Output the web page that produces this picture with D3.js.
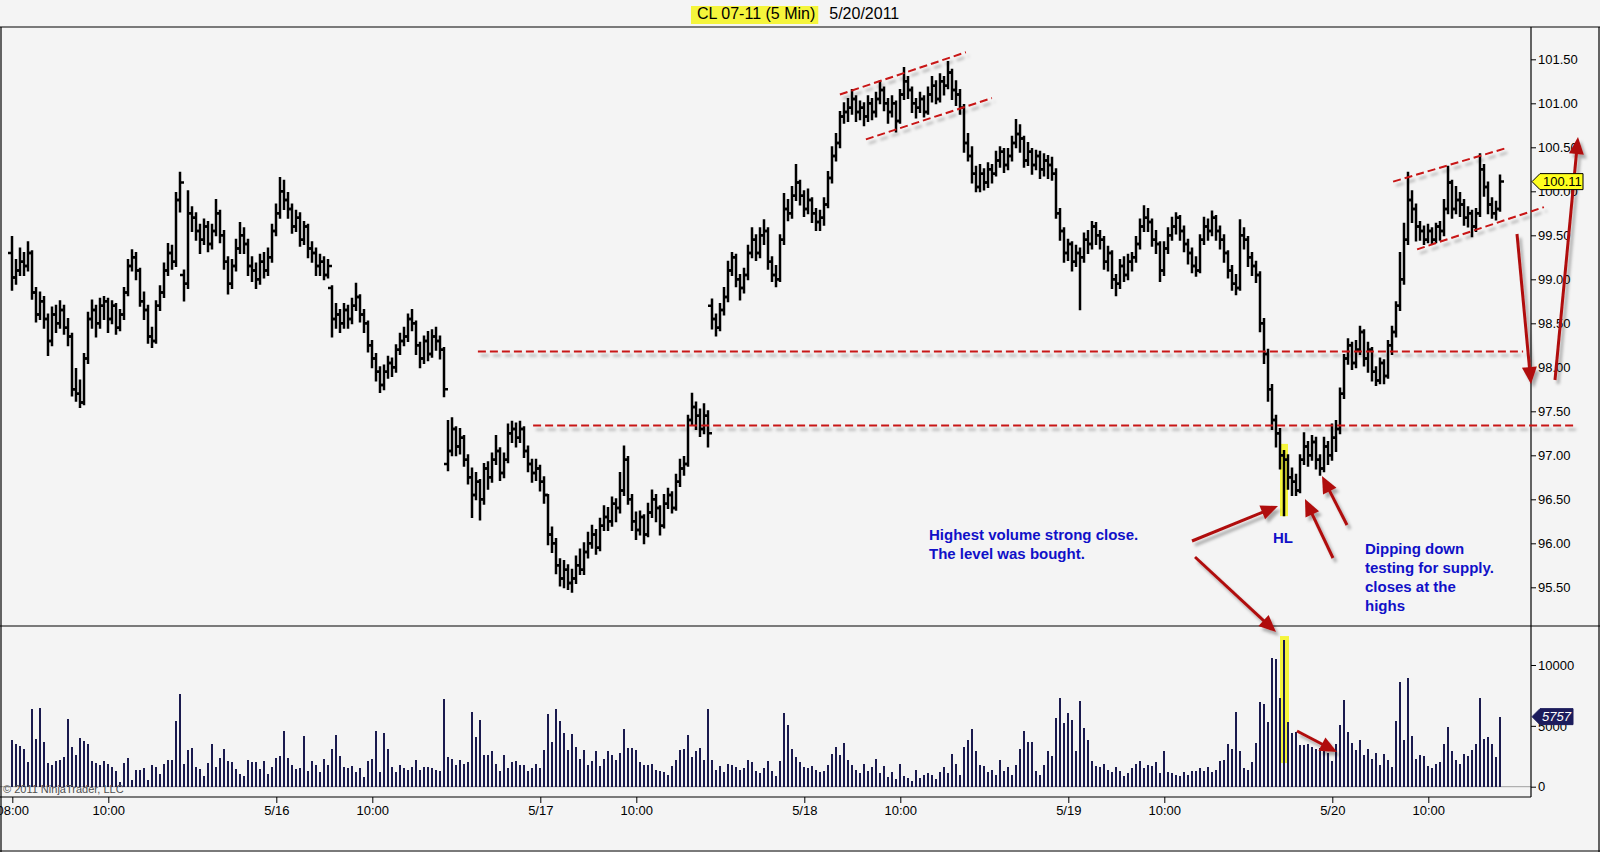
<!DOCTYPE html>
<html>
<head>
<meta charset="utf-8">
<title>CL 07-11 (5 Min) 5/20/2011</title>
<script src="https://cdn.jsdelivr.net/npm/d3@7"></script>
<style>
  html, body { margin: 0; padding: 0; background: #f4f4f4; }
  svg { display: block; font-family: Arial, "Liberation Sans", sans-serif; }
</style>
</head>
<body>
<svg id="chart" width="1600" height="852"></svg>
<script>
// 5-minute bars, 5/13 08:00 .. 5/20 ~10:50 (66 bars per session)
const opens = [
  99.30, 99.02, 99.10, 99.20, 99.15, 99.30, 98.85, 98.60, 98.75, 98.55,
  98.30, 98.60, 98.50, 98.65, 98.45, 98.35, 97.75, 97.70, 97.60, 98.10,
  98.55, 98.65, 98.50, 98.70, 98.75, 98.55, 98.70, 98.45, 98.60, 98.85,
  99.15, 99.25, 99.10, 98.75, 98.65, 98.35, 98.30, 98.70, 98.85, 99.10,
  99.30, 99.20, 99.90, 99.05, 98.95, 99.75, 99.70, 99.55, 99.45, 99.60,
  99.40, 99.55, 99.75, 99.50, 99.20, 98.95, 99.15, 99.35, 99.50, 99.40,
  99.15, 99.10, 99.00, 99.20, 99.10, 99.25, 99.55, 99.75, 100.00, 99.90,
  99.80, 99.60, 99.70, 99.45, 99.60, 99.35, 99.30, 99.15, 99.20, 99.05,
  98.90, 98.55, 98.60, 98.50, 98.65, 98.55, 98.70, 98.80, 98.60, 98.50,
  98.25, 98.10, 97.95, 97.80, 97.95, 98.05, 98.00, 98.20, 98.30, 98.35,
  98.55, 98.50, 98.25, 98.10, 98.30, 98.15, 98.35, 98.30, 98.20, 96.90,
  97.05, 97.30, 97.10, 97.20, 96.95, 96.75, 96.55, 96.70, 96.50, 96.85,
  96.75, 96.95, 97.05, 96.80, 96.95, 97.25, 97.30, 97.20, 97.30, 97.05,
  96.90, 96.80, 96.85, 96.70, 96.55, 96.10, 96.00, 95.75, 95.60, 95.70,
  95.55, 95.60, 95.75, 95.70, 95.90, 96.00, 96.10, 95.95, 96.20, 96.30,
  96.25, 96.45, 96.40, 96.60, 96.95, 96.50, 96.25, 96.15, 96.30, 96.10,
  96.35, 96.50, 96.40, 96.20, 96.45, 96.55, 96.40, 96.70, 96.85, 96.90,
  97.40, 97.55, 97.45, 97.30, 97.45, 98.70, 98.55, 98.45, 98.65, 98.80,
  99.10, 99.25, 99.00, 98.90, 99.05, 99.30, 99.45, 99.30, 99.50, 99.55,
  99.20, 99.05, 99.00, 99.45, 99.80, 99.75, 99.95, 100.10, 99.95, 99.80,
  99.90, 99.75, 99.65, 99.70, 99.85, 100.15, 100.40, 100.55, 100.85, 100.90,
  100.95, 101.05, 100.90, 100.95, 100.85, 101.00, 100.90, 101.05, 101.15, 101.00,
  100.90, 101.00, 100.80, 101.10, 101.25, 101.15, 101.00, 100.95, 101.05, 100.90,
  101.10, 101.20, 101.05, 101.25, 101.20, 101.35, 101.15, 101.10, 100.95, 100.55,
  100.40, 100.20, 100.05, 100.20, 100.10, 100.25, 100.20, 100.35, 100.45, 100.30,
  100.40, 100.55, 100.65, 100.60, 100.35, 100.45, 100.30, 100.40, 100.25, 100.35,
  100.30, 100.20, 99.75, 99.55, 99.30, 99.40, 99.20, 99.30, 99.25, 99.45,
  99.40, 99.60, 99.50, 99.45, 99.20, 99.30, 99.00, 98.95, 99.15, 99.05,
  99.20, 99.25, 99.40, 99.60, 99.70, 99.65, 99.45, 99.40, 99.10, 99.35,
  99.50, 99.60, 99.70, 99.55, 99.40, 99.30, 99.15, 99.10, 99.45, 99.60,
  99.55, 99.70, 99.55, 99.45, 99.30, 99.10, 98.95, 98.90, 99.50, 99.45,
  99.25, 99.15, 99.05, 98.50, 98.15, 97.75, 97.40, 97.25, 97.00, 96.95,
  96.75, 96.70, 96.60, 96.95, 97.10, 97.00, 97.15, 96.95, 96.85, 97.10,
  97.00, 97.20, 97.30, 97.70, 98.10, 98.25, 98.05, 98.20, 98.40, 98.10,
  98.20, 97.95, 97.85, 98.05, 97.90, 98.25, 98.40, 98.70, 99.00, 99.45,
  99.90, 99.80, 99.60, 99.55, 99.45, 99.55, 99.45, 99.60, 99.55, 99.80,
  100.10, 99.80, 99.90, 99.85, 99.70, 99.75, 99.60, 99.75, 100.25, 100.05,
  99.85, 99.75, 99.80
];
const highs = [
  99.48, 99.22, 99.35, 99.30, 99.42, 99.32, 98.90, 98.85, 98.80, 98.60,
  98.68, 98.70, 98.75, 98.70, 98.55, 98.38, 97.98, 97.85, 98.15, 98.62,
  98.76, 98.70, 98.78, 98.80, 98.78, 98.75, 98.72, 98.65, 98.90, 99.22,
  99.33, 99.30, 99.12, 98.85, 98.70, 98.45, 98.75, 98.92, 99.18, 99.40,
  99.38, 99.98, 100.21, 99.10, 100.00, 99.82, 99.75, 99.62, 99.68, 99.65,
  99.62, 99.90, 99.78, 99.55, 99.25, 99.22, 99.45, 99.64, 99.58, 99.45,
  99.25, 99.18, 99.28, 99.30, 99.35, 99.62, 99.85, 100.15, 100.12, 99.98,
  99.85, 99.78, 99.75, 99.65, 99.62, 99.42, 99.35, 99.28, 99.25, 99.22,
  98.92, 98.72, 98.65, 98.72, 98.70, 98.78, 98.95, 98.82, 98.65, 98.52,
  98.30, 98.15, 98.00, 98.02, 98.12, 98.10, 98.25, 98.38, 98.45, 98.60,
  98.65, 98.52, 98.28, 98.35, 98.40, 98.42, 98.45, 98.35, 98.22, 97.39,
  97.42, 97.32, 97.30, 97.22, 97.00, 96.85, 96.80, 96.72, 96.90, 96.92,
  97.02, 97.22, 97.08, 97.02, 97.35, 97.38, 97.36, 97.38, 97.32, 97.10,
  96.95, 96.95, 96.88, 96.75, 96.55, 96.18, 96.05, 95.82, 95.80, 95.75,
  95.70, 95.85, 95.93, 96.00, 96.12, 96.20, 96.15, 96.28, 96.42, 96.40,
  96.52, 96.50, 96.80, 97.10, 96.98, 96.55, 96.35, 96.36, 96.32, 96.45,
  96.60, 96.55, 96.42, 96.55, 96.62, 96.58, 96.78, 96.95, 96.98, 97.45,
  97.70, 97.60, 97.52, 97.58, 97.50, 98.77, 98.60, 98.72, 98.90, 99.20,
  99.30, 99.28, 99.05, 99.12, 99.38, 99.58, 99.50, 99.58, 99.67, 99.58,
  99.25, 99.15, 99.50, 99.97, 99.90, 100.05, 100.30, 100.12, 100.00, 100.02,
  99.92, 99.80, 99.78, 99.92, 100.22, 100.50, 100.65, 100.90, 101.00, 101.05,
  101.15, 101.08, 101.02, 101.00, 101.08, 101.05, 101.12, 101.25, 101.18, 101.05,
  101.08, 101.02, 101.15, 101.40, 101.30, 101.18, 101.05, 101.12, 101.08, 101.18,
  101.30, 101.25, 101.33, 101.30, 101.47, 101.38, 101.25, 101.15, 100.98, 100.65,
  100.50, 100.28, 100.30, 100.25, 100.32, 100.30, 100.45, 100.50, 100.48, 100.48,
  100.62, 100.81, 100.75, 100.62, 100.55, 100.48, 100.46, 100.45, 100.42, 100.40,
  100.38, 100.25, 99.80, 99.58, 99.45, 99.42, 99.38, 99.35, 99.52, 99.55,
  99.65, 99.64, 99.55, 99.48, 99.37, 99.32, 99.05, 99.22, 99.25, 99.28,
  99.30, 99.48, 99.68, 99.83, 99.80, 99.68, 99.55, 99.42, 99.42, 99.58,
  99.70, 99.75, 99.72, 99.60, 99.45, 99.35, 99.25, 99.50, 99.70, 99.68,
  99.77, 99.72, 99.60, 99.50, 99.32, 99.15, 99.05, 99.67, 99.58, 99.48,
  99.30, 99.20, 99.08, 98.55, 98.20, 97.80, 97.45, 97.30, 97.05, 97.00,
  96.85, 96.78, 97.00, 97.25, 97.15, 97.22, 97.20, 97.00, 97.20, 97.15,
  97.35, 97.39, 97.76, 98.14, 98.32, 98.28, 98.30, 98.46, 98.42, 98.28,
  98.22, 98.00, 98.10, 98.08, 98.30, 98.46, 98.74, 99.30, 99.63, 100.21,
  100.00, 99.85, 99.65, 99.60, 99.62, 99.58, 99.63, 99.65, 99.90, 100.28,
  100.12, 100.05, 99.98, 99.90, 99.82, 99.78, 99.80, 100.42, 100.30, 100.10,
  99.92, 99.88, 100.18
];
const lows = [
  98.88, 98.95, 99.05, 99.05, 99.10, 98.78, 98.52, 98.55, 98.45, 98.14,
  98.25, 98.40, 98.45, 98.38, 98.25, 97.68, 97.62, 97.55, 97.58, 98.05,
  98.45, 98.35, 98.45, 98.55, 98.40, 98.50, 98.38, 98.42, 98.55, 98.82,
  99.10, 99.00, 98.70, 98.55, 98.28, 98.23, 98.28, 98.65, 98.80, 99.05,
  99.12, 99.15, 99.77, 98.76, 98.90, 99.55, 99.45, 99.30, 99.40, 99.32,
  99.35, 99.50, 99.42, 99.12, 98.84, 98.90, 99.10, 99.30, 99.30, 99.05,
  98.98, 98.90, 98.95, 99.02, 99.05, 99.20, 99.50, 99.70, 99.80, 99.70,
  99.53, 99.55, 99.38, 99.40, 99.25, 99.20, 99.05, 99.05, 99.00, 99.02,
  98.35, 98.45, 98.40, 98.45, 98.45, 98.50, 98.65, 98.52, 98.40, 98.18,
  98.00, 97.85, 97.72, 97.75, 97.88, 97.90, 97.95, 98.15, 98.25, 98.30,
  98.42, 98.15, 98.00, 98.05, 98.08, 98.12, 98.20, 98.10, 97.67, 96.83,
  97.00, 97.00, 97.02, 96.88, 96.68, 96.30, 96.50, 96.27, 96.45, 96.62,
  96.70, 96.90, 96.72, 96.75, 96.92, 97.15, 97.10, 97.15, 96.98, 96.82,
  96.70, 96.72, 96.60, 96.46, 95.99, 95.90, 95.66, 95.52, 95.50, 95.48,
  95.45, 95.55, 95.65, 95.65, 95.84, 95.95, 95.88, 95.92, 96.15, 96.15,
  96.20, 96.25, 96.35, 96.55, 96.45, 96.15, 96.05, 96.10, 96.00, 96.08,
  96.30, 96.25, 96.10, 96.18, 96.40, 96.35, 96.38, 96.65, 96.78, 96.88,
  97.35, 97.30, 97.22, 97.25, 97.10, 98.44, 98.36, 98.42, 98.60, 98.75,
  99.05, 98.92, 98.77, 98.85, 99.00, 99.25, 99.22, 99.25, 99.40, 99.12,
  98.98, 98.92, 98.98, 99.40, 99.67, 99.70, 99.90, 99.85, 99.72, 99.75,
  99.65, 99.56, 99.56, 99.62, 99.82, 100.10, 100.35, 100.50, 100.78, 100.80,
  100.88, 100.80, 100.82, 100.75, 100.80, 100.82, 100.85, 101.00, 100.92, 100.78,
  100.85, 100.68, 100.78, 101.05, 101.06, 100.90, 100.84, 100.90, 100.85, 100.88,
  101.02, 101.00, 101.02, 101.10, 101.17, 101.05, 100.98, 100.88, 100.45, 100.35,
  100.10, 100.00, 100.00, 100.02, 100.05, 100.10, 100.18, 100.28, 100.22, 100.25,
  100.35, 100.50, 100.45, 100.28, 100.30, 100.20, 100.25, 100.15, 100.18, 100.15,
  100.13, 99.70, 99.45, 99.20, 99.22, 99.10, 99.15, 98.66, 99.20, 99.30,
  99.35, 99.40, 99.35, 99.12, 99.10, 98.90, 98.82, 98.90, 98.98, 99.00,
  99.10, 99.20, 99.35, 99.55, 99.55, 99.38, 99.30, 98.98, 99.05, 99.30,
  99.45, 99.52, 99.45, 99.32, 99.18, 99.08, 99.04, 99.08, 99.40, 99.45,
  99.50, 99.45, 99.35, 99.20, 99.02, 98.88, 98.83, 98.88, 99.35, 99.15,
  99.05, 98.97, 98.41, 98.05, 97.62, 97.30, 97.10, 96.85, 96.32, 96.62,
  96.55, 96.55, 96.58, 96.90, 96.88, 96.95, 96.85, 96.78, 96.82, 96.90,
  96.95, 97.05, 97.25, 97.65, 98.04, 97.98, 98.00, 98.15, 98.02, 97.95,
  97.85, 97.80, 97.82, 97.82, 97.88, 98.15, 98.35, 98.65, 98.95, 99.40,
  99.65, 99.44, 99.45, 99.40, 99.42, 99.40, 99.42, 99.45, 99.50, 99.75,
  99.70, 99.75, 99.72, 99.62, 99.60, 99.49, 99.55, 99.72, 99.95, 99.75,
  99.70, 99.68, 99.78
];
const closes = [
  99.02, 99.10, 99.20, 99.15, 99.30, 98.85, 98.60, 98.75, 98.55, 98.30,
  98.60, 98.50, 98.65, 98.45, 98.35, 97.75, 97.70, 97.60, 98.10, 98.55,
  98.65, 98.50, 98.70, 98.75, 98.55, 98.70, 98.45, 98.60, 98.85, 99.15,
  99.25, 99.10, 98.75, 98.65, 98.35, 98.30, 98.70, 98.85, 99.10, 99.30,
  99.20, 99.90, 100.10, 98.95, 99.75, 99.70, 99.55, 99.45, 99.60, 99.40,
  99.55, 99.75, 99.50, 99.20, 98.95, 99.15, 99.35, 99.50, 99.40, 99.15,
  99.10, 99.00, 99.20, 99.10, 99.25, 99.55, 99.75, 100.00, 99.90, 99.80,
  99.60, 99.70, 99.45, 99.60, 99.35, 99.30, 99.15, 99.20, 99.05, 99.15,
  98.55, 98.60, 98.50, 98.65, 98.55, 98.70, 98.80, 98.60, 98.50, 98.25,
  98.10, 97.95, 97.80, 97.95, 98.05, 98.00, 98.20, 98.30, 98.35, 98.55,
  98.50, 98.25, 98.10, 98.30, 98.15, 98.35, 98.30, 98.20, 97.75, 97.05,
  97.30, 97.10, 97.20, 96.95, 96.75, 96.55, 96.70, 96.50, 96.85, 96.75,
  96.95, 97.05, 96.80, 96.95, 97.25, 97.30, 97.20, 97.30, 97.05, 96.90,
  96.80, 96.85, 96.70, 96.55, 96.10, 96.00, 95.75, 95.60, 95.70, 95.55,
  95.60, 95.75, 95.70, 95.90, 96.00, 96.10, 95.95, 96.20, 96.30, 96.25,
  96.45, 96.40, 96.60, 96.95, 96.50, 96.25, 96.15, 96.30, 96.10, 96.35,
  96.50, 96.40, 96.20, 96.45, 96.55, 96.40, 96.70, 96.85, 96.90, 97.40,
  97.55, 97.45, 97.30, 97.45, 97.25, 98.55, 98.45, 98.65, 98.80, 99.10,
  99.25, 99.00, 98.90, 99.05, 99.30, 99.45, 99.30, 99.50, 99.55, 99.20,
  99.05, 99.00, 99.45, 99.80, 99.75, 99.95, 100.10, 99.95, 99.80, 99.90,
  99.75, 99.65, 99.70, 99.85, 100.15, 100.40, 100.55, 100.85, 100.90, 100.95,
  101.05, 100.90, 100.95, 100.85, 101.00, 100.90, 101.05, 101.15, 101.00, 100.90,
  101.00, 100.80, 101.10, 101.25, 101.15, 101.00, 100.95, 101.05, 100.90, 101.10,
  101.20, 101.05, 101.25, 101.20, 101.35, 101.15, 101.10, 100.95, 100.55, 100.40,
  100.20, 100.05, 100.20, 100.10, 100.25, 100.20, 100.35, 100.45, 100.30, 100.40,
  100.55, 100.65, 100.60, 100.35, 100.45, 100.30, 100.40, 100.25, 100.35, 100.30,
  100.20, 99.75, 99.55, 99.30, 99.40, 99.20, 99.30, 99.25, 99.45, 99.40,
  99.60, 99.50, 99.45, 99.20, 99.30, 99.00, 98.95, 99.15, 99.05, 99.20,
  99.25, 99.40, 99.60, 99.70, 99.65, 99.45, 99.40, 99.10, 99.35, 99.50,
  99.60, 99.70, 99.55, 99.40, 99.30, 99.15, 99.10, 99.45, 99.60, 99.55,
  99.70, 99.55, 99.45, 99.30, 99.10, 98.95, 98.90, 99.50, 99.45, 99.25,
  99.15, 99.05, 98.50, 98.15, 97.75, 97.40, 97.25, 97.00, 96.95, 96.75,
  96.70, 96.60, 96.95, 97.10, 97.00, 97.15, 96.95, 96.85, 97.10, 97.00,
  97.20, 97.30, 97.70, 98.10, 98.25, 98.05, 98.20, 98.40, 98.10, 98.20,
  97.95, 97.85, 98.05, 97.90, 98.25, 98.40, 98.70, 99.00, 99.45, 99.90,
  99.80, 99.60, 99.55, 99.45, 99.55, 99.45, 99.60, 99.55, 99.80, 100.10,
  99.80, 99.90, 99.85, 99.70, 99.75, 99.60, 99.75, 100.25, 100.05, 99.85,
  99.75, 99.80, 100.11
];
const volumes = [
  3840, 3500, 3370, 3100, 2000, 6400, 3880, 6470, 3670, 1920,
  1820, 2090, 2190, 2430, 5560, 3270, 2600, 4040, 3770, 3500,
  2090, 1920, 1750, 2090, 1850, 1580, 1250, 400, 1920, 2360,
  570, 1350, 1350, 1520, 570, 1750, 1580, 1080, 1850, 2190,
  2190, 5390, 7620, 1850, 3030, 3170, 1650, 1480, 840, 1920,
  3540, 1580, 2320, 3100, 2090, 2020, 1480, 1080, 910, 2190,
  2020, 1990, 1420, 2090, 1010, 1580, 2320, 2490, 4550, 2320,
  1820, 1420, 1500, 4180, 1300, 2100, 1800, 1200, 2300, 1800,
  3100, 4210, 2500, 1600, 1500, 1700, 1200, 1500, 800, 2100,
  2300, 4550, 1200, 4450, 3100, 1600, 1200, 1800, 1500, 1400,
  1600, 2200, 1400, 1600, 1600, 1500, 1400, 1300, 7210, 2400,
  2300, 1800, 2200, 1900, 2000, 6130, 4110, 5460, 2600, 2600,
  2900, 1900, 1300, 2600, 1500, 2000, 2100, 1800, 1800, 1300,
  1500, 1900, 1500, 3000, 5960, 3700, 6400, 5390, 4450, 3000,
  4350, 3300, 2300, 3000, 1800, 2100, 2900, 1700, 2300, 2900,
  2600, 2200, 2800, 4780, 3200, 3200, 3000, 2000, 1800, 1800,
  1900, 1400, 1300, 1200, 1000, 1700, 2200, 3000, 3100, 4270,
  2400, 2900, 3200, 2200, 6360, 2200, 1400, 1700, 1200, 1900,
  1800, 1600, 1400, 1500, 2200, 2000, 1300, 1100, 1500, 2100,
  1300, 900, 2100, 6040, 5060, 3100, 2400, 2000, 1600, 1500,
  1700, 1400, 1200, 1300, 1800, 2700, 3280, 2600, 3560, 2200,
  1800, 1400, 1100, 1900, 1300, 1600, 2300, 1100, 1700, 800,
  1200, 600, 1900, 900, 700, 500, 1400, 700, 1000, 1100,
  1000, 600, 1200, 1600, 1100, 2700, 1900, 1000, 3300, 3800,
  4780, 2900, 1800, 1700, 1200, 1400, 1000, 2200, 1300, 1600,
  1000, 1800, 3100, 4540, 3670, 3670, 1300, 1000, 1800, 2900,
  2500, 5650, 7310, 5250, 6040, 5450, 2900, 7070, 4860, 3870,
  2100, 1700, 1600, 1900, 1400, 1200, 1600, 1300, 900, 1100,
  1500, 1900, 2100, 1500, 1800, 1700, 2000, 1100, 2900, 1200,
  1100, 1000, 900, 1200, 1000, 1300, 1300, 1500, 1300, 1600,
  1200, 1400, 2100, 2200, 3500, 3100, 6100, 2900, 1500, 1400,
  2000, 3600, 7000, 6800, 5300, 10600, 10500, 7300, 12050, 5300,
  4400, 4500, 3400, 3400, 3500, 3300, 3100, 3200, 3000, 2800,
  2100, 3500, 5100, 7150, 4500, 3600, 3000, 3800, 2600, 3100,
  2300, 2800, 1800, 2700, 2200, 1600, 5400, 8600, 3850, 8900,
  4200, 2300, 2600, 2500, 1700, 1500, 1900, 2000, 3500, 4900,
  2900, 2200, 1900, 2700, 2500, 3000, 3500, 7300, 3900, 4100,
  3500, 2400, 5757
];

// time axis: bar index of each labelled tick
const timeTickIndex = [0, 24, 66, 90, 132, 156, 198, 222, 264, 288, 330, 354];
const timeTickLabels = ["08:00", "10:00", "5/16", "10:00", "5/17", "10:00", "5/18", "10:00", "5/19", "10:00", "5/20", "10:00"];
const priceTicks = [95.5, 96, 96.5, 97, 97.5, 98, 98.5, 99, 99.5, 100, 100.5, 101, 101.5];
const volumeTicks = [0, 5000, 10000];

// drawn levels (bar index from/to, price)
const levelLines = [
  { price: 98.18, from: 116.4, to: 377.7 },
  { price: 97.34, from: 130.2, to: 391.2 }
];
// channel lines: [index1, price1, index2, price2]
const channelLines = [
  [206.9, 101.10, 238.4, 101.58],
  [213.4, 100.59, 244.9, 101.06],
  [345.2, 100.11, 373.4, 100.49],
  [351.2, 99.34, 382.9, 99.82]
];
const highlightIndex = 318;   // "HL" bar, highest volume

const W = 1600, H = 852;
const axisX = 1531;
const svg = d3.select('#chart');

const x = d3.scaleLinear().domain([0, 372]).range([12.3, 12.3 + 4 * 372]);
const yP = d3.scaleLinear().domain([95.5, 101.5]).range([587.3, 59.3]);
const yV = d3.scaleLinear().domain([0, 10000]).range([786.7, 665]);

const defs = svg.append('defs');
defs.append('filter').attr('id', 'shadow')
  .attr('x', '-20%').attr('y', '-20%').attr('width', '140%').attr('height', '140%')
  .append('feDropShadow')
  .attr('dx', 3).attr('dy', 4).attr('stdDeviation', 1.6)
  .attr('flood-color', '#000').attr('flood-opacity', 0.3);

svg.append('rect').attr('width', W).attr('height', H).attr('fill', '#f4f4f4');

// title
const titleText = svg.append('text')
  .attr('x', 697).attr('y', 19).attr('font-size', 16).attr('fill', '#000')
  .text('CL 07-11 (5 Min)');
const tLen = titleText.node().getComputedTextLength();
svg.insert('rect', 'text')
  .attr('x', 691).attr('y', 6).attr('width', tLen + 9).attr('height', 18)
  .attr('fill', '#f5f53c');
svg.append('text')
  .attr('x', 697 + tLen + 14).attr('y', 19).attr('font-size', 16).attr('fill', '#000')
  .text('5/20/2011');

// highlights (behind marks)
const hx = Math.round(x(highlightIndex));
svg.append('rect')
  .attr('x', hx - 4).attr('width', 8)
  .attr('y', yP(highs[highlightIndex]) - 7)
  .attr('height', yP(lows[highlightIndex]) - yP(highs[highlightIndex]) + 8)
  .attr('fill', '#f5f53c');
svg.append('rect')
  .attr('x', hx - 4).attr('width', 9)
  .attr('y', yV(volumes[highlightIndex]) - 4)
  .attr('height', 127)
  .attr('fill', '#f5f53c');

// volume zero line
svg.append('line')
  .attr('x1', 0).attr('x2', axisX).attr('y1', yV(0)).attr('y2', yV(0))
  .attr('stroke', '#a0a0a0').attr('stroke-width', 1);

// OHLC bars
const bars = closes.map((c, i) => ({ i, o: opens[i], h: highs[i], l: lows[i], c }));
svg.append('g')
  .selectAll('path').data(bars).enter().append('path')
  .attr('d', d => {
    const cx = Math.round(x(d.i));
    return `M${cx},${yP(d.h) - 1}V${yP(d.l) + 1}M${cx - 4},${yP(d.o)}H${cx}M${cx},${yP(d.c)}H${cx + 4}`;
  })
  .attr('fill', 'none').attr('stroke', '#000').attr('stroke-width', 2.5);

// volume bars
svg.append('g').attr('shape-rendering', 'crispEdges')
  .selectAll('rect').data(volumes).enter().append('rect')
  .attr('x', (d, i) => Math.round(x(i)) - 1)
  .attr('width', 2)
  .attr('y', d => yV(d))
  .attr('height', d => yV(0) - yV(d))
  .attr('fill', '#1a1a4e');

// frame lines
const frame = svg.append('g').attr('stroke', '#000').attr('stroke-width', 1.2);
frame.append('line').attr('x1', 0).attr('x2', W).attr('y1', 27).attr('y2', 27);
frame.append('line').attr('x1', 0).attr('x2', W).attr('y1', 626).attr('y2', 626);
frame.append('line').attr('x1', 0).attr('x2', axisX).attr('y1', 797).attr('y2', 797);
frame.append('line').attr('x1', axisX).attr('x2', axisX).attr('y1', 27).attr('y2', 797);
frame.append('line').attr('x1', 0).attr('x2', W).attr('y1', 851).attr('y2', 851);
frame.append('line').attr('x1', 1).attr('x2', 1).attr('y1', 27).attr('y2', 852);
frame.append('line').attr('x1', 1599).attr('x2', 1599).attr('y1', 27).attr('y2', 852);

// axes
function styleAxis(g) {
  g.select('.domain').remove();
  g.selectAll('text').attr('font-size', 13).attr('font-family', 'Arial, "Liberation Sans", sans-serif').attr('fill', '#000');
  g.selectAll('line').attr('stroke', '#000');
}
svg.append('g').attr('transform', 'translate(0,797)')
  .call(d3.axisBottom(x).tickValues(timeTickIndex).tickFormat((d, i) => timeTickLabels[i]).tickSize(6).tickPadding(3))
  .call(styleAxis);
svg.append('g').attr('transform', `translate(${axisX},0)`)
  .call(d3.axisRight(yP).tickValues(priceTicks).tickFormat(d3.format('.2f')).tickSize(5).tickPadding(2))
  .call(styleAxis);
svg.append('g').attr('transform', `translate(${axisX},0)`)
  .call(d3.axisRight(yV).tickValues(volumeTicks).tickFormat(d3.format('d')).tickSize(5).tickPadding(2))
  .call(styleAxis);

svg.append('text').attr('x', 3).attr('y', 793).attr('font-size', 11).attr('fill', '#505050')
  .text('\u00a9 2011 NinjaTrader, LLC');

// red dashed levels and channels
const red = svg.append('g').attr('filter', 'url(#shadow)')
  .attr('stroke', '#c81414').attr('stroke-width', 2).attr('stroke-dasharray', '8,4').attr('fill', 'none');
levelLines.forEach(l => {
  red.append('line').attr('x1', x(l.from)).attr('x2', x(l.to)).attr('y1', yP(l.price)).attr('y2', yP(l.price));
});
channelLines.forEach(c => {
  red.append('line').attr('x1', x(c[0])).attr('y1', yP(c[1])).attr('x2', x(c[2])).attr('y2', yP(c[3]));
});

// arrows (pixel layout of the hand-drawn callouts)
const arrows = [
  [1192, 541, 1278, 506],
  [1195, 557, 1276, 632],
  [1333, 558, 1305, 499],
  [1347, 525, 1322, 476],
  [1297, 731, 1337, 752],
  [1517, 234, 1531, 384],
  [1555, 380, 1578, 137]
];
const arrowG = svg.append('g').attr('filter', 'url(#shadow)');
arrows.forEach(([x1, y1, x2, y2]) => {
  const dx = x2 - x1, dy = y2 - y1, len = Math.hypot(dx, dy);
  const ux = dx / len, uy = dy / len, hl = 17, hw = 7.5;
  const bx = x2 - ux * hl, by = y2 - uy * hl;
  arrowG.append('line').attr('x1', x1).attr('y1', y1).attr('x2', bx + ux * 2).attr('y2', by + uy * 2)
    .attr('stroke', '#b01010').attr('stroke-width', 3);
  arrowG.append('path')
    .attr('d', `M${x2},${y2}L${bx - uy * hw},${by + ux * hw}L${bx + uy * hw},${by - ux * hw}Z`)
    .attr('fill', '#b01010');
});

// notes
const note = svg.append('g').attr('fill', '#1010c8').attr('font-size', 15).attr('font-weight', 'bold');
note.append('text').attr('x', 929).attr('y', 540).text('Highest volume strong close.');
note.append('text').attr('x', 929).attr('y', 559).text('The level was bought.');
note.append('text').attr('x', 1273).attr('y', 543).text('HL');
['Dipping down', 'testing for supply.', 'closes at the', 'highs'].forEach((t, k) => {
  note.append('text').attr('x', 1365).attr('y', 554 + k * 18.9).text(t);
});

// last price / last volume tags
const last = closes.length - 1;
const py = yP(closes[last]);
svg.append('path')
  .attr('d', `M${axisX + 1},${py}L${axisX + 9},${py - 8}H1583V${py + 8}H${axisX + 9}Z`)
  .attr('fill', '#ffff1e').attr('stroke', '#000').attr('stroke-width', 1);
svg.append('text').attr('x', 1543).attr('y', py + 4.6).attr('font-size', 13).attr('fill', '#000')
  .text(closes[last].toFixed(2));
const vy = yV(volumes[last]);
svg.append('path')
  .attr('d', `M${axisX + 1},${vy}L${axisX + 9},${vy - 8}H1573V${vy + 8}H${axisX + 9}Z`)
  .attr('fill', '#1c1c5c').attr('stroke', '#1c1c5c');
svg.append('text').attr('x', 1542).attr('y', vy + 4.6).attr('font-size', 13).attr('font-style', 'italic')
  .attr('fill', '#fff').text(volumes[last]);
</script>
</body>
</html>
